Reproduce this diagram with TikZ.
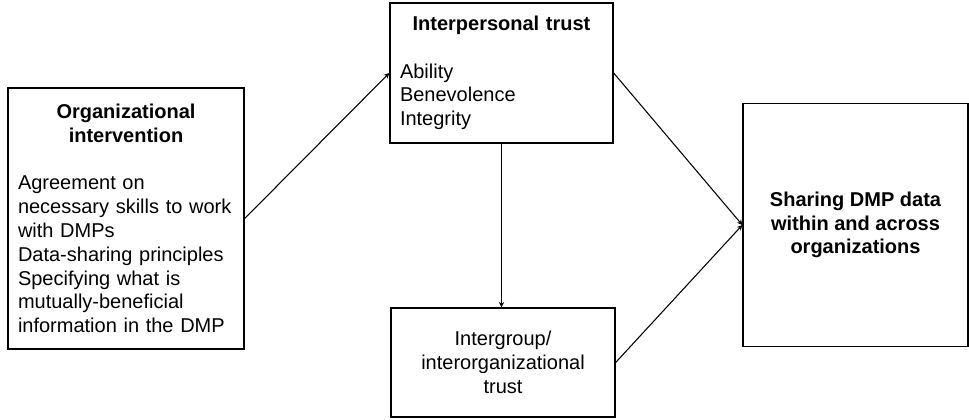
\documentclass[tikz,border=0pt]{standalone}
\usepackage{fontspec}
\setmainfont{Liberation Sans}
\usetikzlibrary{arrows.meta}
\def\px{0.75pt}
\tikzset{
  box/.style={draw=black, line width=1pt, rectangle, inner sep=0pt,
    font=\fontsize{15pt}{17.85pt}\selectfont},
  conn/.style={draw=black, line width=0.8pt, -{Stealth[length=4pt,width=4pt]}}
}
\begin{document}
\begin{tikzpicture}[x=0.75pt,y=-0.75pt]
\useasboundingbox[fill=white] (0,0) rectangle (969,419);
\node[box, minimum width=236*\px, minimum height=261*\px, text width=216*\px] (org) at (126,218.5)
  {{\centering\bfseries Organizational\\intervention\par}\mbox{}\par
   \raggedright Agreement on\\necessary skills to work\\with DMPs\\Data-sharing principles\\Specifying what is\\mutually-beneficial\\information in the DMP\par};
\node[box, minimum width=223*\px, minimum height=140*\px, text width=203*\px] (ip) at (501.5,73)
  {{\centering\bfseries Interpersonal trust\par}\mbox{}\par
   \raggedright Ability\\Benevolence\\Integrity\par};
\node[box, minimum width=224*\px, minimum height=109*\px, align=center] (ig) at (503,362.5)
  {Intergroup/\\interorganizational\\trust};
\node[box, minimum width=225*\px, minimum height=243*\px, align=center, font=\fontsize{15pt}{17.85pt}\selectfont\bfseries] (share) at (855.5,225)
  {Sharing DMP data\\within and across\\organizations};
\draw[conn] (org.east) -- (ip.west);
\draw[conn] (ip.east) -- (share.west);
\draw[conn] (ig.east) -- (share.west);
\draw[conn] (ip.south) -- (ip.south |- ig.north);
\end{tikzpicture}
\end{document}
